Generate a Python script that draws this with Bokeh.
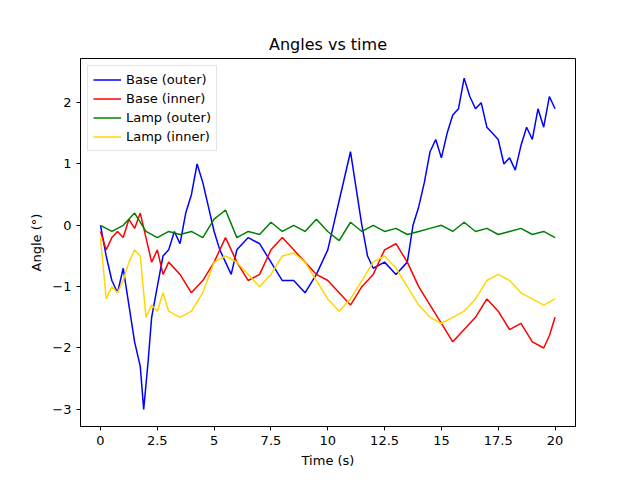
from bokeh.plotting import figure
from bokeh.models import Range1d, FixedTicker
from bokeh.embed import file_html
from bokeh.resources import INLINE

t_base = [0,0.25,0.5,0.75,1.0,1.25,1.5,1.75,1.9,2.1,2.25,2.5,2.75,3.0,3.25,3.5,3.75,4.0,4.25,4.5,4.75,5.0,5.25,5.5,5.75,6.0,6.5,7.0,7.5,8.0,8.5,9.0,9.5,10.0,10.25,10.5,10.75,11.0,11.25,11.5,11.75,12.0,12.5,13.0,13.5,13.75,14.0,14.25,14.5,14.75,15.0,15.25,15.5,15.75,16.0,16.25,16.5,16.75,17.0,17.25,17.5,17.75,18.0,18.25,18.5,18.75,19.0,19.25,19.5,19.75,20.0]
base_outer = [0,-0.5,-0.9,-1.1,-0.7,-1.3,-1.9,-2.3,-3.0,-2.2,-1.5,-1.0,-0.5,-0.4,-0.1,-0.3,0.2,0.5,1.0,0.7,0.3,-0.1,-0.4,-0.6,-0.8,-0.4,-0.2,-0.3,-0.6,-0.9,-0.9,-1.1,-0.8,-0.4,0.0,0.4,0.8,1.2,0.6,0.0,-0.5,-0.7,-0.6,-0.8,-0.6,0.0,0.3,0.7,1.2,1.4,1.1,1.5,1.8,1.9,2.4,2.1,1.9,2.0,1.6,1.5,1.4,1.0,1.1,0.9,1.3,1.6,1.4,1.9,1.6,2.1,1.9]

t_red = [0,0.25,0.5,0.75,1.0,1.25,1.5,1.75,2.0,2.25,2.5,2.75,3.0,3.5,4.0,4.5,5.0,5.5,6.0,6.5,7.0,7.5,8.0,8.5,9.0,9.5,10.0,10.5,11.0,11.5,12.0,12.5,13.0,13.5,14.0,14.5,15.0,15.5,16.0,16.5,17.0,17.5,18.0,18.5,19.0,19.5,19.75,20.0]
base_inner = [-0.1,-0.4,-0.2,-0.1,-0.2,0.1,-0.05,0.2,-0.2,-0.6,-0.4,-0.8,-0.6,-0.8,-1.1,-0.9,-0.6,-0.2,-0.6,-0.9,-0.8,-0.4,-0.2,-0.4,-0.6,-0.8,-0.9,-1.1,-1.3,-1.0,-0.8,-0.4,-0.3,-0.6,-1.0,-1.3,-1.6,-1.9,-1.7,-1.5,-1.2,-1.4,-1.7,-1.6,-1.9,-2.0,-1.8,-1.5]

t_half = [i*0.5 for i in range(41)]
lamp_outer = [0.0,-0.1,0.0,0.2,-0.1,-0.2,-0.1,-0.15,-0.1,-0.2,0.1,0.25,-0.2,-0.1,-0.15,0.05,-0.1,0.0,-0.1,0.1,-0.1,-0.25,0.05,-0.1,0.0,-0.1,-0.05,-0.15,-0.1,-0.05,0.0,-0.1,0.05,-0.1,-0.05,-0.15,-0.1,-0.05,-0.15,-0.1,-0.2]

t_gold = [0,0.25,0.5,0.75,1.0,1.25,1.5,1.75,2.0,2.25,2.5,2.75,3.0,3.5,4.0,4.5,5.0,5.5,6.0,6.5,7.0,7.5,8.0,8.5,9.0,9.5,10.0,10.5,11.0,11.5,12.0,12.5,13.0,13.5,14.0,14.5,15.0,15.5,16.0,16.5,17.0,17.5,18.0,18.5,19.0,19.5,20.0]
lamp_inner = [-0.2,-1.2,-1.0,-1.1,-0.9,-0.6,-0.4,-0.5,-1.5,-1.3,-1.4,-1.1,-1.4,-1.5,-1.4,-1.1,-0.6,-0.5,-0.6,-0.8,-1.0,-0.8,-0.5,-0.45,-0.6,-0.9,-1.2,-1.4,-1.2,-0.9,-0.6,-0.5,-0.7,-1.0,-1.3,-1.5,-1.6,-1.5,-1.4,-1.2,-0.9,-0.8,-0.9,-1.1,-1.2,-1.3,-1.2]

p = figure(width=630, height=470, output_backend="svg", toolbar_location=None,
           title="Angles vs time", x_range=Range1d(-0.88, 20.9), y_range=Range1d(-3.28, 2.72),
           min_border_left=80, min_border_right=55, min_border_top=58, min_border_bottom=43)
p.title.align = "center"
p.title.text_font = "DejaVu Sans"
p.title.text_font_size = "16px"
p.title.text_font_style = "normal"
p.title.text_color = "black"
p.grid.visible = False
p.outline_line_color = "black"
p.xaxis.ticker = FixedTicker(ticks=[0,2.5,5,7.5,10,12.5,15,17.5,20])
p.yaxis.ticker = FixedTicker(ticks=[-3,-2,-1,0,1,2])
p.xaxis.axis_label = "Time (s)"
p.yaxis.axis_label = "Angle (°)"
for ax in (p.xaxis, p.yaxis):
    ax.axis_label_text_font = "DejaVu Sans"
    ax.axis_label_text_font_style = "normal"
    ax.axis_label_text_font_size = "13px"
    ax.axis_label_text_color = "black"
    ax.major_label_text_font = "DejaVu Sans"
    ax.major_label_text_font_size = "13px"
    ax.major_label_text_color = "black"
    ax.minor_tick_line_color = None
    ax.major_tick_in = 0
    ax.major_tick_out = 4
    ax.major_tick_line_color = "black"
    ax.axis_line_color = "black"

p.line(t_base, base_outer, color="blue", line_width=1.5, legend_label="Base (outer)")
p.line(t_red, base_inner, color="red", line_width=1.5, legend_label="Base (inner)")
p.line(t_half, lamp_outer, color="green", line_width=1.5, legend_label="Lamp (outer)")
p.line(t_gold, lamp_inner, color="gold", line_width=1.5, legend_label="Lamp (inner)")

p.legend.location = "top_left"
p.legend.label_text_font = "DejaVu Sans"
p.legend.label_text_font_size = "13px"
p.legend.label_text_color = "black"
p.legend.border_line_color = "#cccccc"
p.legend.spacing = 2
p.legend.padding = 5
p.legend.label_height = 17
p.legend.glyph_height = 17
p.legend.glyph_width = 28
p.legend.margin = 7

open("out.html", "w").write(file_html(p, INLINE))
